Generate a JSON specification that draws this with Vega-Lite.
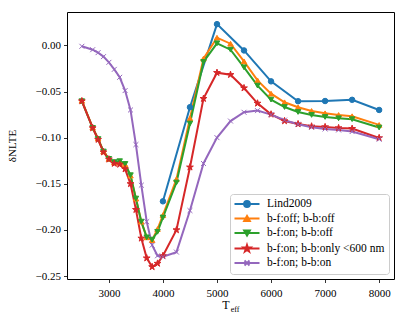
{
"$schema": "https://vega.github.io/schema/vega-lite/v6.json",
"width": 327, "height": 267,
"autosize": "none",
"padding": {"left": 67, "top": 12, "right": 13, "bottom": 47},
"background": "white",
"config": {
  "view": {"stroke": "#000", "strokeWidth": 1},
  "font": "Liberation Serif",
  "axis": {"domain": false, "grid": false, "tickColor": "#000", "tickSize": 3.5, "tickWidth": 0.8, "labelFont": "Liberation Serif", "labelFontSize": 11, "labelColor": "#000", "titleFont": "Liberation Serif", "titleFontWeight": "normal", "titleColor": "#000", "titleFontSize": 11, "labelPadding": 3},
  "legend": {"title": null, "orient": "bottom-right", "offset": 5, "padding": 4, "symbolSize": 100, "symbolOpacity": 1, "labelOffset": 21, "rowPadding": 0.5, "labelFont": "Liberation Serif", "labelFontSize": 11.5, "labelColor": "#000", "strokeColor": "#cccccc", "fillColor": "rgba(255,255,255,0.8)", "cornerRadius": 3, "symbolStrokeWidth": 1.8}
},
"data": {"values": [
{"s":"Lind2009","T":4000,"v":-0.169},{"s":"Lind2009","T":4500,"v":-0.067},{"s":"Lind2009","T":5000,"v":0.023},{"s":"Lind2009","T":5500,"v":-0.0055},{"s":"Lind2009","T":6000,"v":-0.039},{"s":"Lind2009","T":6500,"v":-0.0605},{"s":"Lind2009","T":7000,"v":-0.0603},{"s":"Lind2009","T":7500,"v":-0.059},{"s":"Lind2009","T":8000,"v":-0.070},
{"s":"b-f:off; b-b:off","T":2500,"v":-0.060},{"s":"b-f:off; b-b:off","T":2700,"v":-0.089},{"s":"b-f:off; b-b:off","T":2800,"v":-0.101},{"s":"b-f:off; b-b:off","T":2900,"v":-0.115},{"s":"b-f:off; b-b:off","T":3000,"v":-0.123},{"s":"b-f:off; b-b:off","T":3100,"v":-0.127},{"s":"b-f:off; b-b:off","T":3200,"v":-0.127},{"s":"b-f:off; b-b:off","T":3300,"v":-0.129},{"s":"b-f:off; b-b:off","T":3400,"v":-0.141},{"s":"b-f:off; b-b:off","T":3500,"v":-0.166},{"s":"b-f:off; b-b:off","T":3600,"v":-0.191},{"s":"b-f:off; b-b:off","T":3700,"v":-0.208},{"s":"b-f:off; b-b:off","T":3800,"v":-0.211},{"s":"b-f:off; b-b:off","T":3900,"v":-0.199},{"s":"b-f:off; b-b:off","T":4000,"v":-0.184},{"s":"b-f:off; b-b:off","T":4250,"v":-0.145},{"s":"b-f:off; b-b:off","T":4500,"v":-0.079},{"s":"b-f:off; b-b:off","T":4750,"v":-0.0144},{"s":"b-f:off; b-b:off","T":5000,"v":0.0083},{"s":"b-f:off; b-b:off","T":5250,"v":0.0018},{"s":"b-f:off; b-b:off","T":5500,"v":-0.0173},{"s":"b-f:off; b-b:off","T":5750,"v":-0.0379},{"s":"b-f:off; b-b:off","T":6000,"v":-0.0523},{"s":"b-f:off; b-b:off","T":6250,"v":-0.0617},{"s":"b-f:off; b-b:off","T":6500,"v":-0.0671},{"s":"b-f:off; b-b:off","T":6750,"v":-0.0711},{"s":"b-f:off; b-b:off","T":7000,"v":-0.0736},{"s":"b-f:off; b-b:off","T":7250,"v":-0.0754},{"s":"b-f:off; b-b:off","T":7500,"v":-0.0768},{"s":"b-f:off; b-b:off","T":8000,"v":-0.0862},
{"s":"b-f:on; b-b:off","T":2500,"v":-0.0605},{"s":"b-f:on; b-b:off","T":2700,"v":-0.0895},{"s":"b-f:on; b-b:off","T":2800,"v":-0.1015},{"s":"b-f:on; b-b:off","T":2900,"v":-0.115},{"s":"b-f:on; b-b:off","T":3000,"v":-0.123},{"s":"b-f:on; b-b:off","T":3100,"v":-0.1265},{"s":"b-f:on; b-b:off","T":3200,"v":-0.1255},{"s":"b-f:on; b-b:off","T":3300,"v":-0.1285},{"s":"b-f:on; b-b:off","T":3400,"v":-0.1407},{"s":"b-f:on; b-b:off","T":3500,"v":-0.166},{"s":"b-f:on; b-b:off","T":3600,"v":-0.191},{"s":"b-f:on; b-b:off","T":3700,"v":-0.208},{"s":"b-f:on; b-b:off","T":3800,"v":-0.2105},{"s":"b-f:on; b-b:off","T":3900,"v":-0.202},{"s":"b-f:on; b-b:off","T":4000,"v":-0.1865},{"s":"b-f:on; b-b:off","T":4250,"v":-0.1486},{"s":"b-f:on; b-b:off","T":4500,"v":-0.0847},{"s":"b-f:on; b-b:off","T":4750,"v":-0.018},{"s":"b-f:on; b-b:off","T":5000,"v":0.0022},{"s":"b-f:on; b-b:off","T":5250,"v":-0.0047},{"s":"b-f:on; b-b:off","T":5500,"v":-0.0238},{"s":"b-f:on; b-b:off","T":5750,"v":-0.0436},{"s":"b-f:on; b-b:off","T":6000,"v":-0.0588},{"s":"b-f:on; b-b:off","T":6250,"v":-0.0668},{"s":"b-f:on; b-b:off","T":6500,"v":-0.0722},{"s":"b-f:on; b-b:off","T":6750,"v":-0.0754},{"s":"b-f:on; b-b:off","T":7000,"v":-0.0776},{"s":"b-f:on; b-b:off","T":7250,"v":-0.079},{"s":"b-f:on; b-b:off","T":7500,"v":-0.080},{"s":"b-f:on; b-b:off","T":8000,"v":-0.089},
{"s":"b-f:on; b-b:only <600 nm","T":2500,"v":-0.0603},{"s":"b-f:on; b-b:only <600 nm","T":2700,"v":-0.0895},{"s":"b-f:on; b-b:only <600 nm","T":2800,"v":-0.102},{"s":"b-f:on; b-b:only <600 nm","T":2900,"v":-0.1156},{"s":"b-f:on; b-b:only <600 nm","T":3000,"v":-0.1234},{"s":"b-f:on; b-b:only <600 nm","T":3100,"v":-0.128},{"s":"b-f:on; b-b:only <600 nm","T":3200,"v":-0.129},{"s":"b-f:on; b-b:only <600 nm","T":3300,"v":-0.134},{"s":"b-f:on; b-b:only <600 nm","T":3400,"v":-0.150},{"s":"b-f:on; b-b:only <600 nm","T":3500,"v":-0.178},{"s":"b-f:on; b-b:only <600 nm","T":3600,"v":-0.209},{"s":"b-f:on; b-b:only <600 nm","T":3700,"v":-0.2305},{"s":"b-f:on; b-b:only <600 nm","T":3800,"v":-0.240},{"s":"b-f:on; b-b:only <600 nm","T":3900,"v":-0.2363},{"s":"b-f:on; b-b:only <600 nm","T":4000,"v":-0.228},{"s":"b-f:on; b-b:only <600 nm","T":4250,"v":-0.200},{"s":"b-f:on; b-b:only <600 nm","T":4500,"v":-0.132},{"s":"b-f:on; b-b:only <600 nm","T":4750,"v":-0.0577},{"s":"b-f:on; b-b:only <600 nm","T":5000,"v":-0.0296},{"s":"b-f:on; b-b:only <600 nm","T":5250,"v":-0.0318},{"s":"b-f:on; b-b:only <600 nm","T":5500,"v":-0.0462},{"s":"b-f:on; b-b:only <600 nm","T":5750,"v":-0.0628},{"s":"b-f:on; b-b:only <600 nm","T":6000,"v":-0.0747},{"s":"b-f:on; b-b:only <600 nm","T":6250,"v":-0.0819},{"s":"b-f:on; b-b:only <600 nm","T":6500,"v":-0.0852},{"s":"b-f:on; b-b:only <600 nm","T":6750,"v":-0.0877},{"s":"b-f:on; b-b:only <600 nm","T":7000,"v":-0.0884},{"s":"b-f:on; b-b:only <600 nm","T":7250,"v":-0.0895},{"s":"b-f:on; b-b:only <600 nm","T":7500,"v":-0.0902},{"s":"b-f:on; b-b:only <600 nm","T":8000,"v":-0.1003},
{"s":"b-f:on; b-b:on","T":2500,"v":-0.001},{"s":"b-f:on; b-b:on","T":2700,"v":-0.0047},{"s":"b-f:on; b-b:on","T":2800,"v":-0.0079},{"s":"b-f:on; b-b:on","T":2900,"v":-0.0122},{"s":"b-f:on; b-b:on","T":3000,"v":-0.0184},{"s":"b-f:on; b-b:on","T":3100,"v":-0.026},{"s":"b-f:on; b-b:on","T":3200,"v":-0.0346},{"s":"b-f:on; b-b:on","T":3300,"v":-0.049},{"s":"b-f:on; b-b:on","T":3400,"v":-0.070},{"s":"b-f:on; b-b:on","T":3500,"v":-0.1075},{"s":"b-f:on; b-b:on","T":3600,"v":-0.1515},{"s":"b-f:on; b-b:on","T":3700,"v":-0.191},{"s":"b-f:on; b-b:on","T":3800,"v":-0.2165},{"s":"b-f:on; b-b:on","T":3900,"v":-0.228},{"s":"b-f:on; b-b:on","T":4000,"v":-0.229},{"s":"b-f:on; b-b:on","T":4250,"v":-0.224},{"s":"b-f:on; b-b:on","T":4500,"v":-0.179},{"s":"b-f:on; b-b:on","T":4750,"v":-0.128},{"s":"b-f:on; b-b:on","T":5000,"v":-0.100},{"s":"b-f:on; b-b:on","T":5250,"v":-0.082},{"s":"b-f:on; b-b:on","T":5500,"v":-0.0725},{"s":"b-f:on; b-b:on","T":5750,"v":-0.0707},{"s":"b-f:on; b-b:on","T":6000,"v":-0.075},{"s":"b-f:on; b-b:on","T":6250,"v":-0.081},{"s":"b-f:on; b-b:on","T":6500,"v":-0.0855},{"s":"b-f:on; b-b:on","T":6750,"v":-0.0887},{"s":"b-f:on; b-b:on","T":7000,"v":-0.0906},{"s":"b-f:on; b-b:on","T":7250,"v":-0.0917},{"s":"b-f:on; b-b:on","T":7500,"v":-0.0934},{"s":"b-f:on; b-b:on","T":8000,"v":-0.1017}
]},
"layer": [
 {"mark": {"type": "line", "strokeWidth": 2},
  "encoding": {
   "x": {"field": "T", "type": "quantitative", "scale": {"domain": [2225, 8275], "nice": false, "zero": false},
         "axis": {"orient": "bottom", "values": [3000,4000,5000,6000,7000,8000], "format": "d", "labelPadding": 5, "title": "T", "titleX": 158.3, "titleY": 29, "titleBaseline": "alphabetic", "titleAlign": "center", "titleFontSize": 12}},
   "y": {"field": "v", "type": "quantitative", "scale": {"domain": [-0.25315, 0.03615], "nice": false, "zero": false},
         "axis": {"values": [-0.25,-0.2,-0.15,-0.1,-0.05,0], "format": ".2f", "title": "δNLTE", "titleX": -54.5, "titleBaseline": "middle", "titleAlign": "center", "titleAngle": -90}},
   "color": {"field": "s", "type": "nominal", "scale": {"domain": ["Lind2009","b-f:off; b-b:off","b-f:on; b-b:off","b-f:on; b-b:only <600 nm","b-f:on; b-b:on"], "range": ["#1f77b4","#ff7f0e","#2ca02c","#d62728","#9467bd"]}, "legend": null}
  }},
 {"mark": {"type": "point", "filled": true, "opacity": 1, "size": 30, "strokeWidth": 1},
  "encoding": {
   "x": {"field": "T", "type": "quantitative", "scale": {"domain": [2225, 8275], "nice": false, "zero": false},
         "axis": {"orient": "bottom", "title": "eff", "labels": false, "ticks": false, "domain": false, "titleX": 167.5, "titleY": 32, "titleBaseline": "alphabetic", "titleAlign": "center", "titleFontSize": 8}},
   "y": {"field": "v", "type": "quantitative", "scale": {"domain": [-0.25315, 0.03615], "nice": false, "zero": false}},
   "color": {"field": "s", "type": "nominal", "scale": {"domain": ["Lind2009","b-f:off; b-b:off","b-f:on; b-b:off","b-f:on; b-b:only <600 nm","b-f:on; b-b:on"], "range": ["#1f77b4","#ff7f0e","#2ca02c","#d62728","#9467bd"]}, "legend": null},
   "stroke": {"field": "s", "type": "nominal", "scale": {"domain": ["Lind2009","b-f:off; b-b:off","b-f:on; b-b:off","b-f:on; b-b:only <600 nm","b-f:on; b-b:on"], "range": ["#1f77b4","#ff7f0e","#2ca02c","#d62728","#9467bd"]}, "legend": null},
   "shape": {"field": "s", "type": "nominal", "scale": {"domain": ["Lind2009","b-f:off; b-b:off","b-f:on; b-b:off","b-f:on; b-b:only <600 nm","b-f:on; b-b:on"], "range": ["circle","triangle-up","triangle-down","M0,-1.3L0.292,-0.402L1.236,-0.402L0.472,0.153L0.764,1.052L0,0.497L-0.764,1.052L-0.472,0.153L-1.236,-0.402L-0.292,-0.402Z","M-0.9,-0.9L0.9,0.9M-0.9,0.9L0.9,-0.9"]}, "legend": null}
  }},
 {"transform": [{"filter": "false"}],
  "mark": {"type": "point", "filled": true, "opacity": 1},
  "encoding": {
   "color": {"field": "s", "type": "nominal", "scale": {"domain": ["Lind2009","b-f:off; b-b:off","b-f:on; b-b:off","b-f:on; b-b:only <600 nm","b-f:on; b-b:on"], "range": ["#1f77b4","#ff7f0e","#2ca02c","#d62728","#9467bd"]}, "legend": {"title": null}},
   "stroke": {"field": "s", "type": "nominal", "scale": {"domain": ["Lind2009","b-f:off; b-b:off","b-f:on; b-b:off","b-f:on; b-b:only <600 nm","b-f:on; b-b:on"], "range": ["#1f77b4","#ff7f0e","#2ca02c","#d62728","#9467bd"]}, "legend": {"title": null}},
   "shape": {"field": "s", "type": "nominal", "scale": {"domain": ["Lind2009","b-f:off; b-b:off","b-f:on; b-b:off","b-f:on; b-b:only <600 nm","b-f:on; b-b:on"], "range": ["M-1.1,0L3.9,0M0.8,0A0.6,0.6,0,1,0,2,0A0.6,0.6,0,1,0,0.8,0Z","M-1.1,0L3.9,0M1.4,-0.55L2,0.5L0.8,0.5Z","M-1.1,0L3.9,0M1.4,0.55L2,-0.5L0.8,-0.5Z","M-1.1,0L3.9,0M1.4,-0.75L1.568,-0.232L2.113,-0.232L1.672,0.089L1.841,0.607L1.4,0.287L0.959,0.607L1.128,0.089L0.687,-0.232L1.232,-0.232Z","M-1.1,0L3.9,0M0.9,-0.5L1.9,0.5M0.9,0.5L1.9,-0.5"]}, "legend": {"title": null}}
  }}
],
"resolve": {"axis": {"x": "independent"}, "scale": {"shape": "independent"}, "legend": {"color": "independent", "stroke": "independent", "shape": "independent"}}
}
